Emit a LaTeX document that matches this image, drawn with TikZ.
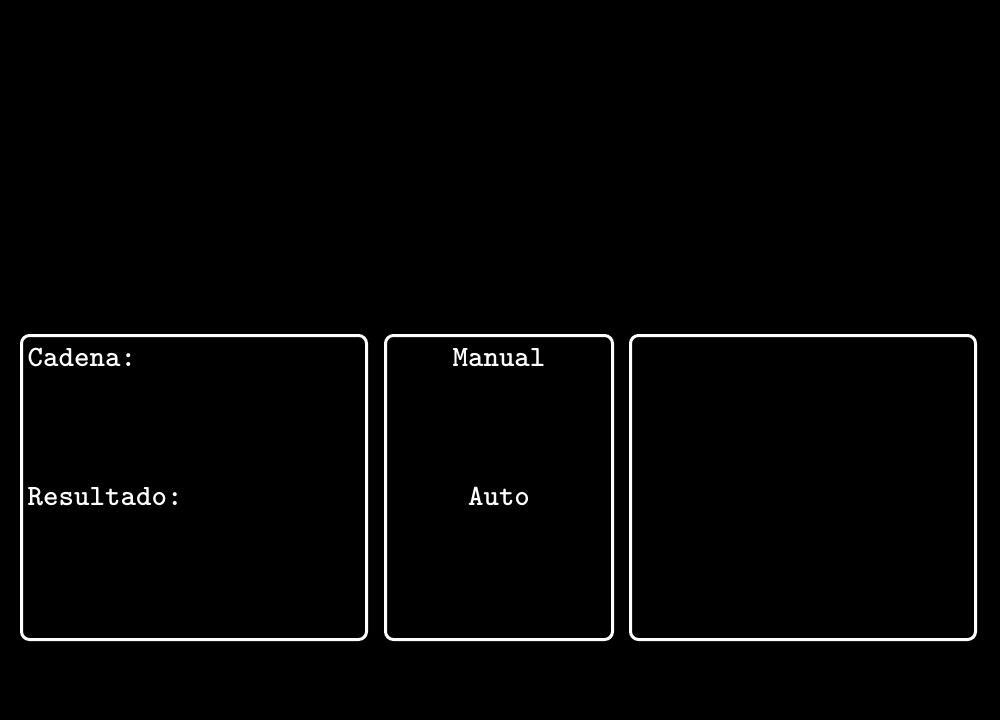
\documentclass[tikz,border=0pt]{standalone}
\usepackage{fontspec}
\usepackage{tikz}
\usetikzlibrary{positioning}

\tikzset{
  panel/.style={draw=white, line width=3pt, rounded corners=8pt, inner sep=0pt, minimum height=304pt},
  etiqueta/.style={text=white, inner sep=0pt, font=\ttfamily\bfseries\fontsize{29.5pt}{35pt}\selectfont}
}

\begin{document}
\begin{tikzpicture}[x=1pt,y=-1pt]
		\fill[black] (0,0) rectangle (1000,720);
		\useasboundingbox (0,0) rectangle (1000,720);

		\node[panel, minimum width=345pt] (entrada) at (194, 487.5) {};
		\node[panel, minimum width=227pt] (modo) at (499, 487.5) {};
		\node[panel, minimum width=345pt] (salida) at (803, 487.5) {};

		\node[etiqueta, anchor=base west] (cadena) at (27.5, 366) {Cadena:};
		\node[etiqueta, anchor=base west] (resultado) at (27.5, 505) {Resultado:};
		\node[etiqueta, anchor=base] (manual) at (499, 366) {Manual};
		\node[etiqueta, anchor=base] (auto) at (499, 505) {Auto};
	\end{tikzpicture}
\end{document}
